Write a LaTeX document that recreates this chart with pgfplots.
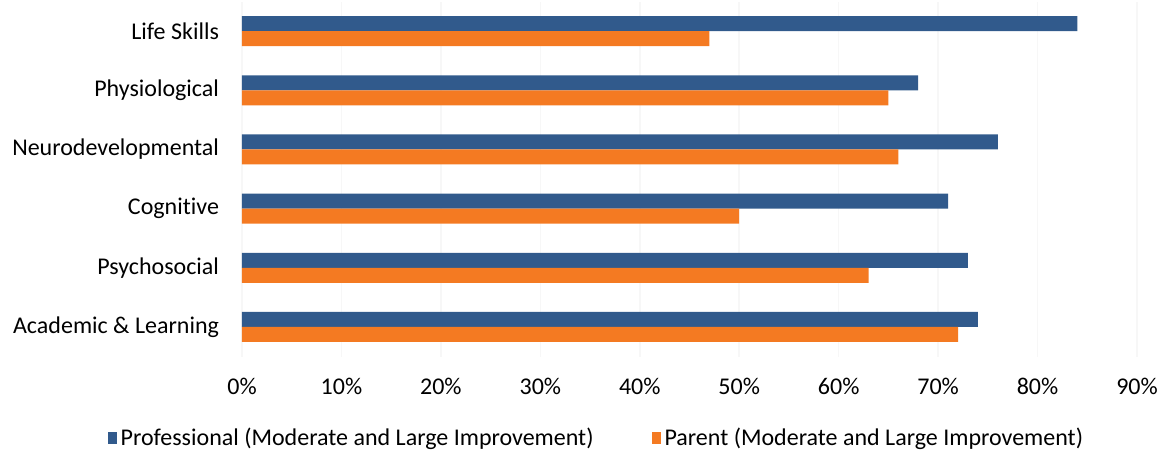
\documentclass[border=0pt]{standalone}
\usepackage{fontspec}
\setmainfont{Carlito}[Ligatures={NoCommon}]
\usepackage{pgfplots}
\pgfplotsset{compat=1.18}
\definecolor{profblue}{HTML}{315A8C}
\definecolor{parorange}{HTML}{F47A22}
\begin{document}
\begin{tikzpicture}
\useasboundingbox (-121bp,-46.75bp) rectangle (460bp,178.25bp);
\begin{axis}[
 at={(0,0)}, anchor=south west,
 scale only axis, width=447.5bp, height=177.5bp,
 xmin=0, xmax=90, ymin=-0.5, ymax=5.5,
 xbar, bar width=7.5bp,
 xtick={0,10,...,90},
 xticklabels={0\%,10\%,20\%,30\%,40\%,50\%,60\%,70\%,80\%,90\%},
 ytick={0,...,5},
 yticklabels={Academic \& Learning, Psychosocial, Cognitive, Neurodevelopmental, Physiological, Life Skills},
 axis line style={draw=none}, major tick length=0pt,
 xmajorgrids, grid style={gray!6, line width=0.8bp},
 tick label style={font=\fontsize{12bp}{14bp}\selectfont},
 xticklabel style={yshift=-7.5bp},
 yticklabel style={xshift=-8bp},
 legend style={at={(0.397,0)}, anchor=center, yshift=-40.75bp, draw=none,
   legend columns=2, font=\fontsize{12bp}{14bp}\selectfont,
   /tikz/every even column/.append style={column sep=27bp}},
 legend image code/.code={\fill[#1] (0bp,-3bp) rectangle (4.5bp,3bp);},
]
\addplot[fill=profblue, draw=none, bar shift=3.75bp] coordinates {(74,0) (73,1) (71,2) (76,3) (68,4) (84,5)};
\addplot[fill=parorange, draw=none, bar shift=-3.75bp] coordinates {(72,0) (63,1) (50,2) (66,3) (65,4) (47,5)};
\legend{Professional (Moderate and Large Improvement), Parent (Moderate and Large Improvement)}
\end{axis}
\end{tikzpicture}
\end{document}
